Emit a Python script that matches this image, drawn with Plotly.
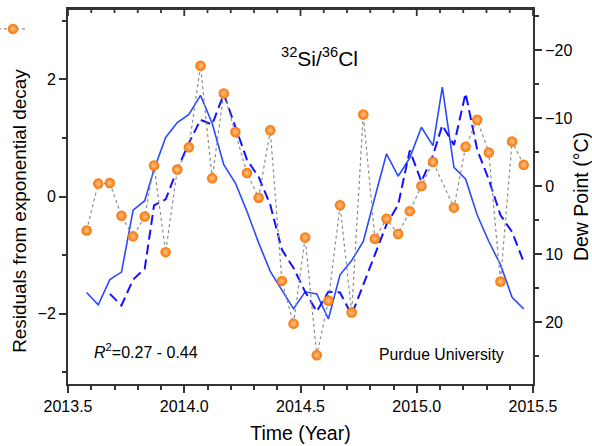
import plotly.graph_objects as go

# Sampling times (decimal year) and residuals of the 32Si/36Cl ratio
time_res = [2013.58, 2013.63, 2013.68, 2013.73, 2013.78, 2013.83, 2013.87, 2013.92, 2013.97,
            2014.02, 2014.07, 2014.12, 2014.17, 2014.22, 2014.27, 2014.32, 2014.37, 2014.42,
            2014.47, 2014.52, 2014.57, 2014.62, 2014.67, 2014.72, 2014.77, 2014.82, 2014.87,
            2014.92, 2014.97, 2015.02, 2015.07, 2015.16, 2015.21, 2015.26, 2015.31, 2015.36,
            2015.41, 2015.46]
residuals = [-0.58, 0.22, 0.23, -0.33, -0.68, -0.34, 0.53, -0.95, 0.46,
             0.84, 2.23, 0.31, 1.76, 1.10, 0.40, -0.02, 1.13, -1.44,
             -2.17, -0.70, -2.71, -1.78, -0.15, -1.98, 1.40, -0.72, -0.38,
             -0.64, -0.25, 0.18, 0.59, -0.19, 0.85, 1.31, 0.75, -1.45,
             0.94, 0.54]

# Dew point (deg C), solid curve
time_dew_a = [2013.58, 2013.63, 2013.68, 2013.73, 2013.78, 2013.83, 2013.87, 2013.92, 2013.97,
              2014.02, 2014.07, 2014.12, 2014.17, 2014.22, 2014.27, 2014.32, 2014.37, 2014.42,
              2014.47, 2014.52, 2014.57, 2014.62, 2014.67, 2014.72, 2014.77, 2014.82, 2014.87,
              2014.92, 2014.97, 2015.02, 2015.07, 2015.11, 2015.16, 2015.21, 2015.26, 2015.31,
              2015.36, 2015.41, 2015.46]
dew_a = [15.6, 17.4, 13.7, 12.6, 3.5, 2.1, -2.5, -7.2, -9.4,
         -10.6, -13.4, -9.3, -3.2, -0.5, 3.7, 8.3, 12.5, 15.2,
         18.0, 15.5, 15.8, 19.5, 13.0, 10.9, 8.1, 1.6, -4.8,
         -1.5, -4.2, -8.7, -6.0, -14.6, -2.8, -1.1, 4.2, 8.1,
         11.5, 16.3, 18.0]

# Dew point (deg C), dashed curve (lagged)
time_dew_b = [2013.68, 2013.73, 2013.78, 2013.83, 2013.87, 2013.92, 2013.97,
              2014.02, 2014.07, 2014.12, 2014.17, 2014.22, 2014.27, 2014.32, 2014.37, 2014.42,
              2014.47, 2014.52, 2014.57, 2014.62, 2014.67, 2014.72, 2014.77, 2014.82, 2014.87,
              2014.92, 2014.97, 2015.02, 2015.07, 2015.11, 2015.16, 2015.21, 2015.26, 2015.31,
              2015.36, 2015.41, 2015.46]
dew_b = [15.8, 17.5, 13.7, 12.1, 2.8, 1.9, -2.5,
         -6.4, -9.8, -9.1, -13.6, -8.6, -3.9, -1.4, 2.7, 9.3,
         12.0, 15.5, 18.4, 15.5, 15.6, 18.9, 14.5, 10.0, 5.6,
         2.7, -5.3, -0.7, -4.6, -9.0, -6.1, -13.7, -5.4, -1.0,
         4.2, 6.7, 11.1]

X_RANGE = [2013.5, 2015.5]
X_MAJOR = 0.5
X_MINOR = 0.1

FONT = "Arial, Liberation Sans, sans-serif"
AX = "#333333"
BLUE_SOLID = "#2a4bff"
BLUE_DASH = "#1212ff"
PLOT_H = 446 - 9 - 62  # plot area height in px

fig = go.Figure()

# Dew point curves on the right-hand (reversed) axis
fig.add_trace(go.Scatter(
    x=time_dew_a, y=dew_a, xaxis="x", yaxis="y", mode="lines",
    line=dict(color=BLUE_SOLID, width=1.6), showlegend=False))
fig.add_trace(go.Scatter(
    x=time_dew_b, y=dew_b, xaxis="x", yaxis="y", mode="lines",
    line=dict(color=BLUE_DASH, width=2, dash="10px,5px"), showlegend=False))
# Residuals on the overlaid left axis, drawn above the curves
fig.add_trace(go.Scatter(
    x=time_res, y=residuals, xaxis="x", yaxis="y2", mode="lines+markers", name="",
    line=dict(color="#8c8c8c", width=1.2, dash="dot"),
    marker=dict(size=10.5, color="#f77200", line=dict(width=0),
                gradient=dict(type="radial", color="#ffc58a")),
    showlegend=True))

tick_common = dict(tickcolor=AX, tickwidth=1.8, linecolor=AX, linewidth=2,
                   showgrid=False, zeroline=False, showline=True,
                   tickfont=dict(family=FONT, size=16, color="black"))

# Top frame edge with inward-pointing ticks
frame_shapes = [dict(type="line", xref="paper", yref="paper", x0=0, x1=1, y0=1, y1=1,
                     line=dict(color=AX, width=2), layer="above")]
n_steps = int(round((X_RANGE[1] - X_RANGE[0]) / X_MINOR))
for i in range(n_steps + 1):
    t = X_RANGE[0] + i * X_MINOR
    is_major = abs((t - X_RANGE[0]) / X_MAJOR - round((t - X_RANGE[0]) / X_MAJOR)) < 1e-6
    length = (7 if is_major else 4) / PLOT_H
    frame_shapes.append(dict(type="line", xref="x", yref="paper", x0=t, x1=t,
                             y0=1, y1=1 - length, line=dict(color=AX, width=1.8),
                             layer="above"))

fig.update_layout(
    width=592, height=446,
    margin=dict(l=68, r=59, t=9, b=62, autoexpand=False),
    paper_bgcolor="white", plot_bgcolor="white",
    font=dict(family=FONT, color="black"),
    xaxis=dict(range=X_RANGE, tick0=X_RANGE[0], dtick=X_MAJOR, tickformat=".1f",
               ticks="outside", ticklen=7, anchor="y", mirror=True,
               minor=dict(dtick=X_MINOR, ticks="outside", ticklen=4, tickcolor=AX, tickwidth=1.8),
               title=dict(text="Time (Year)", font=dict(family=FONT, size=19.5), standoff=12),
               **tick_common),
    yaxis=dict(range=[29.06, -26.1], tick0=0, dtick=10, side="right", anchor="x",
               ticks="outside", ticklen=7,
               minor=dict(dtick=5, ticks="outside", ticklen=4, tickcolor=AX, tickwidth=1.8),
               title=dict(text="Dew Point (°C)", font=dict(family=FONT, size=19.5), standoff=8),
               **tick_common),
    yaxis2=dict(range=[-3.2, 3.2], tick0=0, dtick=2, side="left", overlaying="y", anchor="x",
                ticks="outside", ticklen=7,
                minor=dict(dtick=1, ticks="outside", ticklen=4, tickcolor=AX, tickwidth=1.8),
                **tick_common),
    legend=dict(x=-0.1613, xanchor="left", y=0.9467, yanchor="middle",
                bgcolor="rgba(0,0,0,0)", borderwidth=0, font=dict(size=16)),
    shapes=frame_shapes,
    annotations=[
        dict(text="Residuals from exponential decay", xref="paper", yref="paper",
             x=-0.103, y=0.462, xanchor="center", yanchor="middle", textangle=-90,
             showarrow=False, font=dict(family=FONT, size=18.9, color="black")),
        dict(text="<sup>32</sup>Si/<sup>36</sup>Cl", xref="paper", yref="paper",
             x=0.54, y=0.873, xanchor="center", yanchor="middle", showarrow=False,
             font=dict(family=FONT, size=21, color="black")),
        dict(text="<i>R</i><sup>2</sup>=0.27 - 0.44", xref="paper", yref="paper",
             x=0.051, y=0.087, xanchor="left", yanchor="middle", showarrow=False,
             font=dict(family=FONT, size=16, color="black")),
        dict(text="Purdue University", xref="paper", yref="paper",
             x=0.942, y=0.078, xanchor="right", yanchor="middle", showarrow=False,
             font=dict(family=FONT, size=15.8, color="black")),
    ],
)

fig.write_html("out.html")
